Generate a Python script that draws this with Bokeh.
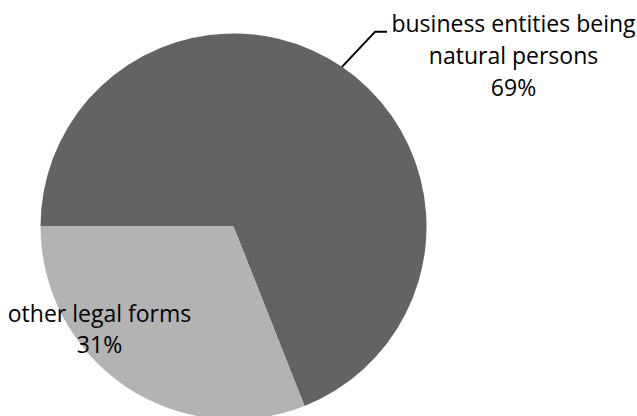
import math
from bokeh.plotting import figure
from bokeh.models import Range1d
from bokeh.core.properties import value
from bokeh.embed import file_html
from bokeh.resources import INLINE

# ---- data ----
categories = ["business entities being natural persons", "other legal forms"]
shares = [69, 31]
label_lines = [["business entities being", "natural persons", "69%"],
               ["other legal forms", "31%"]]
colors = ["#636363", "#b3b3b3"]

W, H = 637, 416
p = figure(width=W, height=H, output_backend="svg", toolbar_location=None,
           x_range=Range1d(0, W), y_range=Range1d(0, H), min_border=0)
p.axis.visible = False
p.grid.visible = False
p.outline_line_color = None
p.background_fill_color = "white"
p.border_fill_color = "white"

cx, cy, r = 233, 190, 193
total = float(sum(shares))

# slices drawn clockwise starting at 9 o'clock
ang = math.pi
mids = []
for s, c in zip(shares, colors):
    sweep = s / total * 2 * math.pi
    end = ang
    start = ang - sweep
    p.wedge(x=[cx], y=[cy], radius=r, start_angle=[start], end_angle=[end],
            fill_color=c, line_color=None)
    mids.append((start + end) / 2)
    ang = start

# leader line for first slice
m = mids[0]
x0, y0 = cx + r * math.cos(m), cy + r * math.sin(m)
x1, y1 = x0 + 33, y0 + 35
p.line([x0, x1, x1 + 12], [y0, y1, y1], line_color="black", line_width=2)

font = value("Open Sans")
fs = "23px"
# top label
tx, ty0, dy = 513, 394, 32
for i, t in enumerate(label_lines[0]):
    p.text(x=[tx], y=[ty0 - i * dy], text=[t], text_font=font, text_font_size=fs,
           text_align="center", text_baseline="middle", text_color="black")
# bottom label
bx, by0, dy2 = 99, 104, 31
for i, t in enumerate(label_lines[1]):
    p.text(x=[bx], y=[by0 - i * dy2], text=[t], text_font=font, text_font_size=fs,
           text_align="center", text_baseline="middle", text_color="black")

open("out.html", "w").write(file_html(p, INLINE))
